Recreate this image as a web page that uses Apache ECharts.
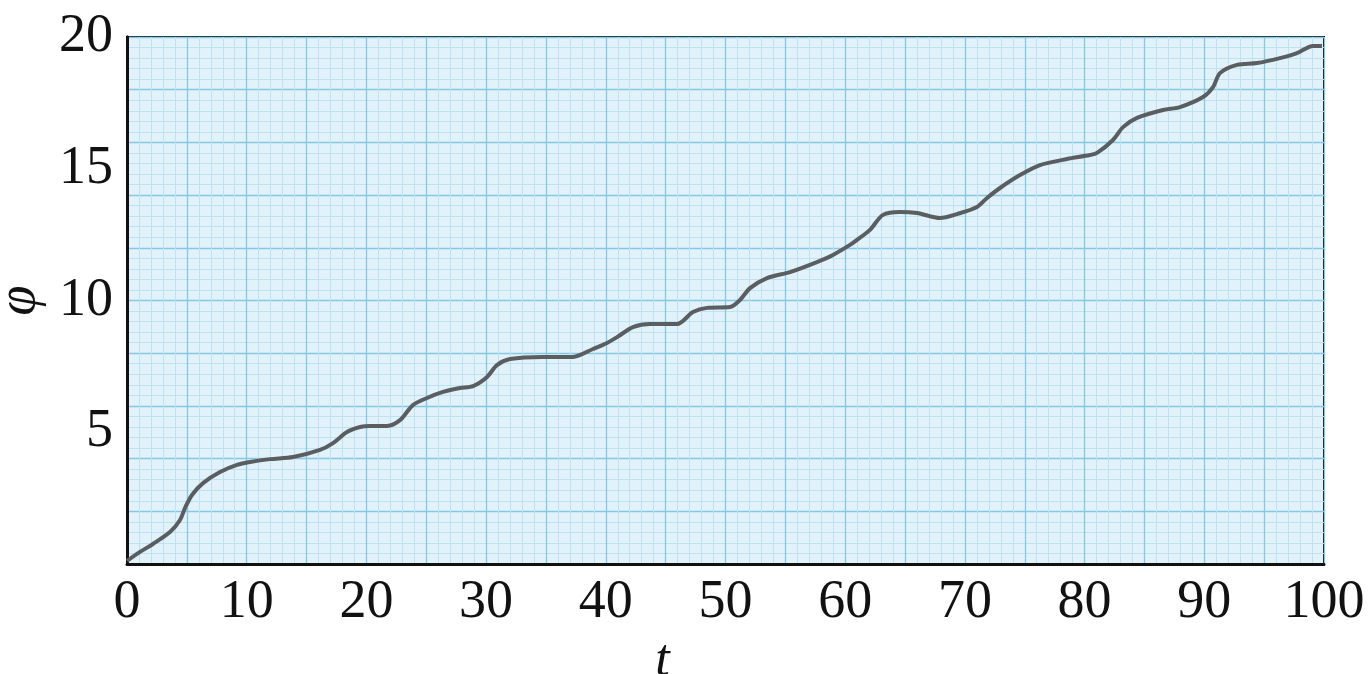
<!DOCTYPE html>
<html>
<head>
<meta charset="utf-8">
<script src="https://cdn.jsdelivr.net/npm/echarts@6/dist/echarts.min.js"></script>
<style>
  html, body { margin: 0; padding: 0; background: #fff; }
  #chart { width: 1371px; height: 674px; }
</style>
</head>
<body>
<div id="chart"></div>
<script>
// values
const tValues = [0, 1.09, 2.17, 3.59, 4.43, 4.85, 5.43, 6.35, 7.77, 9.19, 10.28, 11.95, 13.87, 16.12, 17.21, 18.38, 19.47, 20.3, 21.72, 22.81, 23.89, 25.06, 26.4, 27.82, 28.91, 30.08, 30.91, 32.0, 34.75, 37.26, 38.93, 40.1, 40.94, 42.27, 43.69, 45.95, 47.28, 48.45, 50.38, 51.21, 52.05, 53.47, 55.39, 57.64, 58.98, 60.4, 60.99, 62.07, 63.16, 64.58, 66.0, 67.92, 69.34, 71.01, 71.85, 72.93, 74.6, 76.27, 78.53, 80.45, 81.04, 82.37, 83.21, 84.38, 86.55, 87.97, 89.89, 90.73, 91.31, 92.73, 94.4, 96.32, 97.74, 99.08, 99.83];
const phiValues = [0.12, 0.46, 0.76, 1.21, 1.67, 2.13, 2.62, 3.07, 3.49, 3.76, 3.87, 3.98, 4.06, 4.33, 4.59, 5.01, 5.2, 5.24, 5.24, 5.46, 6.03, 6.3, 6.53, 6.68, 6.75, 7.1, 7.55, 7.78, 7.86, 7.86, 8.16, 8.39, 8.61, 8.99, 9.11, 9.11, 9.56, 9.72, 9.75, 10.02, 10.47, 10.85, 11.08, 11.46, 11.73, 12.11, 12.3, 12.68, 13.25, 13.36, 13.32, 13.13, 13.28, 13.55, 13.89, 14.27, 14.76, 15.14, 15.37, 15.52, 15.6, 16.09, 16.58, 16.93, 17.23, 17.34, 17.72, 18.1, 18.63, 18.94, 19.01, 19.2, 19.39, 19.66, 19.66];
const xTicks = [0, 10, 20, 30, 40, 50, 60, 70, 80, 90, 100];
const yTicks = [5, 10, 15, 20];

const chart = echarts.init(document.getElementById('chart'));
const serif = '"Liberation Serif", "DejaVu Serif", serif';

const option = {
  backgroundColor: '#fff',
  animation: false,
  grid: {
    left: 127, right: 47, top: 37, bottom: 110,
    outerBoundsMode: 'none',
    containLabel: false,
    show: true,
    backgroundColor: '#e2f2fa',
    borderColor: '#111',
    borderWidth: 2
  },
  xAxis: [
    {
      type: 'value', min: 0, max: 100, interval: 10,
      name: 't', nameLocation: 'middle', nameGap: 20,
      nameTextStyle: { fontFamily: serif, fontStyle: 'italic', fontSize: 52, color: '#111', padding: [0, 126, 0, 0] },
      axisLine: { show: true, lineStyle: { color: '#111', width: 3 } },
      axisTick: { show: false },
      axisLabel: {
        fontFamily: serif, fontSize: 54, color: '#111', margin: 12,
        formatter: v => xTicks.includes(v) ? String(v) : ''
      },
      splitLine: { show: false }
    },
    {
      // graph paper rulings
      type: 'value', min: 0, max: 100, interval: 5, position: 'top',
      axisLine: { show: true, lineStyle: { color: '#111', width: 2 } },
      axisTick: { show: false }, axisLabel: { show: false },
      splitLine: { show: true, lineStyle: { color: '#84c8e4', width: 1.3 } },
      minorTick: { show: false, splitNumber: 5 },
      minorSplitLine: { show: true, lineStyle: { color: '#bfe2f1', width: 1 } }
    }
  ],
  yAxis: [
    {
      type: 'value', min: 0, max: 20, interval: 5,
      name: 'φ', nameLocation: 'middle', nameGap: 80, nameRotate: 90,
      nameTextStyle: { fontFamily: serif, fontStyle: 'italic', fontSize: 54, color: '#111' },
      axisLine: { show: true, lineStyle: { color: '#111', width: 3 } },
      axisTick: { show: false },
      axisLabel: {
        fontFamily: serif, fontSize: 54, color: '#111', margin: 14,
        formatter: v => yTicks.includes(v) ? String(v) : ''
      },
      splitLine: { show: false }
    },
    {
      type: 'value', min: 0, max: 20, interval: 2, position: 'right',
      axisLine: { show: true, lineStyle: { color: '#111', width: 3 } },
      axisTick: { show: false }, axisLabel: { show: false },
      splitLine: { show: true, lineStyle: { color: '#84c8e4', width: 1.3 } },
      minorTick: { show: false, splitNumber: 5 },
      minorSplitLine: { show: true, lineStyle: { color: '#bfe2f1', width: 1 } }
    }
  ],
  series: [
    {
      type: 'line',
      xAxisIndex: 0, yAxisIndex: 0,
      data: tValues.map((t, i) => [t, phiValues[i]]),
      smooth: 0.3,
      showSymbol: false,
      lineStyle: { color: '#5a5e60', width: 4 },
      z: 5
    }
  ]
};

chart.setOption(option);
</script>
</body>
</html>
